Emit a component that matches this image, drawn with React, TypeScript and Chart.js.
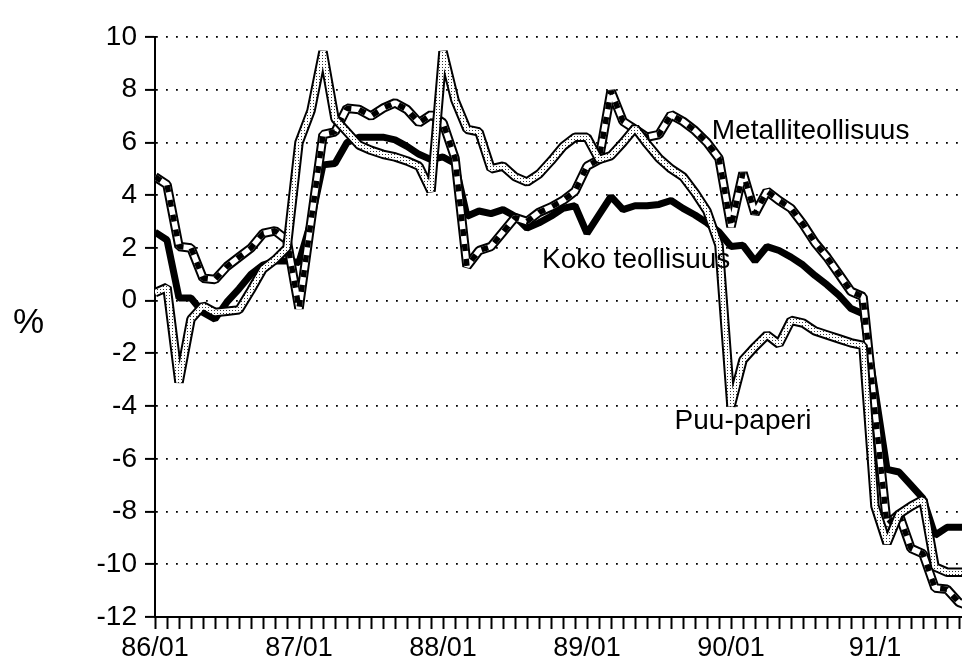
import { useEffect, useRef } from 'react';
import { Chart, registerables } from 'chart.js';

Chart.register(...registerables);

// ---- data (monthly, 86/01 .. 91/09) ----
const YEARS = ['86', '87', '88', '89', '90', '91'];
const X_TICK_LABELS = ['86/01', '87/01', '88/01', '89/01', '90/01', '91/1'];
const Y_TICKS = [10, 8, 6, 4, 2, 0, -2, -4, -6, -8, -10, -12];

const kokoTeollisuus = [
  2.6, 2.3, 0.1, 0.1, -0.45, -0.7, -0.05, 0.45, 1.0, 1.35, 1.5, 1.5,
  1.45, 3.0, 5.15, 5.2, 6.0, 6.2, 6.2, 6.2, 6.1, 5.85, 5.55, 5.35,
  5.45, 5.2, 3.2, 3.4, 3.3, 3.45, 3.2, 2.75, 2.95, 3.2, 3.5, 3.6,
  2.55, 3.25, 3.95, 3.45, 3.6, 3.6, 3.65, 3.8, 3.5, 3.25, 2.95, 2.6,
  2.05, 2.1, 1.5, 2.05, 1.9, 1.65, 1.35, 0.95, 0.6, 0.2, -0.3, -0.5,
  -3.4, -6.4, -6.5, -7.0, -7.5, -8.9, -8.6, -8.6, -8.6,
];

const metalliteollisuus = [
  4.7, 4.4, 2.05, 2.0, 0.85, 0.8, 1.3, 1.65, 2.0, 2.55, 2.65, 2.3,
  -0.3, 3.0, 6.3, 6.4, 7.3, 7.25, 7.0, 7.3, 7.5, 7.25, 6.75, 7.05,
  6.75, 5.4, 1.3, 1.9, 2.05, 2.6, 3.15, 3.0, 3.35, 3.55, 3.8, 4.15,
  5.1, 5.35, 7.95, 6.8, 6.5, 6.2, 6.3, 7.05, 6.8, 6.45, 6.0, 5.4,
  2.8, 4.85, 3.3, 4.15, 3.8, 3.5, 2.9, 2.2, 1.65, 1.0, 0.35, 0.15,
  -4.2, -8.5, -8.1, -9.4, -9.6, -10.9, -10.95, -11.45, -11.6,
];

const puuPaperi = [
  0.3, 0.5, -3.1, -0.7, -0.2, -0.45, -0.4, -0.35, 0.4, 1.2, 1.55, 2.0,
  6.0, 7.2, 9.45, 6.9, 6.4, 5.9, 5.7, 5.55, 5.45, 5.3, 5.1, 4.15,
  9.45, 7.6, 6.5, 6.4, 5.0, 5.1, 4.7, 4.5, 4.8, 5.3, 5.85, 6.2,
  6.2, 5.35, 5.5, 6.0, 6.55, 5.95, 5.4, 5.0, 4.7, 4.1, 3.4, 2.1,
  -4.0, -2.25, -1.75, -1.3, -1.65, -0.75, -0.85, -1.15, -1.3, -1.45, -1.6, -1.7,
  -7.8, -9.2, -8.1, -7.8, -7.55, -10.1, -10.3, -10.3, -10.3,
];

// category list: month labels
const MONTHS: string[] = [];
YEARS.forEach((yy) => {
  for (let m = 1; m <= 12; m++) MONTHS.push(`${yy}/${String(m).padStart(2, '0')}`);
});

// in-chart text annotations (data coordinates)
const SERIES_LABELS = [
  { text: 'Metalliteollisuus', x: 46.4, y: 6.15 },
  { text: 'Koko teollisuus', x: 32.25, y: 1.25 },
  { text: 'Puu-paperi', x: 43.3, y: -4.86 },
];

const FONT = "'Liberation Sans', Arial, Helvetica, sans-serif";

const toPoints = (vals: number[]) => vals.map((v, i) => ({ x: i, y: v }));

const labelPlugin = {
  id: 'seriesLabels',
  afterDatasetsDraw(chart: any) {
    const { ctx, scales } = chart;
    const xs = scales.x;
    const ys = scales.y;
    ctx.save();
    ctx.fillStyle = '#000';
    ctx.textAlign = 'left';
    ctx.textBaseline = 'alphabetic';
    ctx.font = `28px ${FONT}`;
    for (const l of SERIES_LABELS) {
      ctx.fillText(l.text, xs.getPixelForValue(l.x), ys.getPixelForValue(l.y));
    }
    ctx.font = `35px ${FONT}`;
    ctx.fillText('%', 13, 333);
    ctx.restore();
  },
};

export default function App() {
  const ref = useRef<HTMLCanvasElement>(null);

  useEffect(() => {
    const canvas = ref.current!;
    const ctx = canvas.getContext('2d')!;

    const pc = document.createElement('canvas');
    pc.width = 3;
    pc.height = 3;
    const pctx = pc.getContext('2d')!;
    pctx.fillStyle = '#fff';
    pctx.fillRect(0, 0, 3, 3);
    pctx.fillStyle = '#333';
    pctx.fillRect(1, 1, 1, 1);
    const stipple = ctx.createPattern(pc, 'repeat');

    const base = {
      pointRadius: 0,
      tension: 0,
      fill: false,
      borderJoinStyle: 'bevel' as const,
      borderCapStyle: 'butt' as const,
    };

    const chart = new Chart(canvas, {
      type: 'line',
      data: {
        datasets: [
          { ...base, label: 'Koko teollisuus', data: toPoints(kokoTeollisuus), borderColor: '#000', borderWidth: 7, order: 6 },
          { ...base, label: 'Metalliteollisuus', data: toPoints(metalliteollisuus), borderColor: '#000', borderWidth: 9.5, order: 5 },
          { ...base, label: 'Metalliteollisuus-in', data: toPoints(metalliteollisuus), borderColor: '#fff', borderWidth: 5.5, order: 4 },
          { ...base, label: 'Metalliteollisuus-dash', data: toPoints(metalliteollisuus), borderColor: '#000', borderWidth: 5.5, borderDash: [7, 8], order: 3 },
          { ...base, label: 'Puu-paperi', data: toPoints(puuPaperi), borderColor: '#000', borderWidth: 9.5, order: 2 },
          { ...base, label: 'Puu-paperi-in', data: toPoints(puuPaperi), borderColor: stipple as any, borderWidth: 5.5, order: 1 },
        ],
      },
      options: {
        animation: false,
        responsive: false,
        layout: { padding: { top: 37, right: 0, bottom: 0, left: 0 } },
        plugins: { legend: { display: false }, tooltip: { enabled: false } },
        scales: {
          x: {
            type: 'linear',
            min: 0,
            max: 67.25,
            afterBuildTicks: (s: any) => {
              s.ticks = MONTHS.map((_, i) => ({ value: i })).filter((t) => t.value <= 67);
            },
            afterFit: (s: any) => {
              s.height = 47;
            },
            ticks: {
              autoSkip: false,
              maxRotation: 0,
              padding: 3,
              color: '#000',
              font: { family: FONT, size: 27 },
              callback: (v: any) => (Number(v) % 12 === 0 ? X_TICK_LABELS[Number(v) / 12] : ''),
            },
            grid: {
              drawOnChartArea: false,
              drawTicks: true,
              tickLength: 12,
              tickWidth: 2,
              tickColor: '#000',
            },
            border: { display: true, color: '#000', width: 2 },
          },
          y: {
            min: -12,
            max: 10,
            afterBuildTicks: (s: any) => {
              s.ticks = Y_TICKS.map((v) => ({ value: v }));
            },
            afterFit: (s: any) => {
              s.width = 155;
            },
            ticks: {
              padding: 8,
              color: '#000',
              font: { family: FONT, size: 28 },
              callback: (v: any) => String(v),
            },
            grid: {
              color: '#000',
              lineWidth: 1.8,
              drawTicks: true,
              tickLength: 10,
              tickWidth: 2,
              tickColor: '#000',
              tickBorderDash: [],
            },
            border: { display: true, color: '#000', width: 2, dash: [1.8, 8.2] },
          },
        },
      },
      plugins: [labelPlugin],
    } as any);

    return () => chart.destroy();
  }, []);

  return (
    <div style={{ position: 'absolute', left: 0, top: 0, width: 962, height: 664, background: '#fff' }}>
      <canvas ref={ref} width={962} height={664} style={{ display: 'block' }} />
    </div>
  );
}
